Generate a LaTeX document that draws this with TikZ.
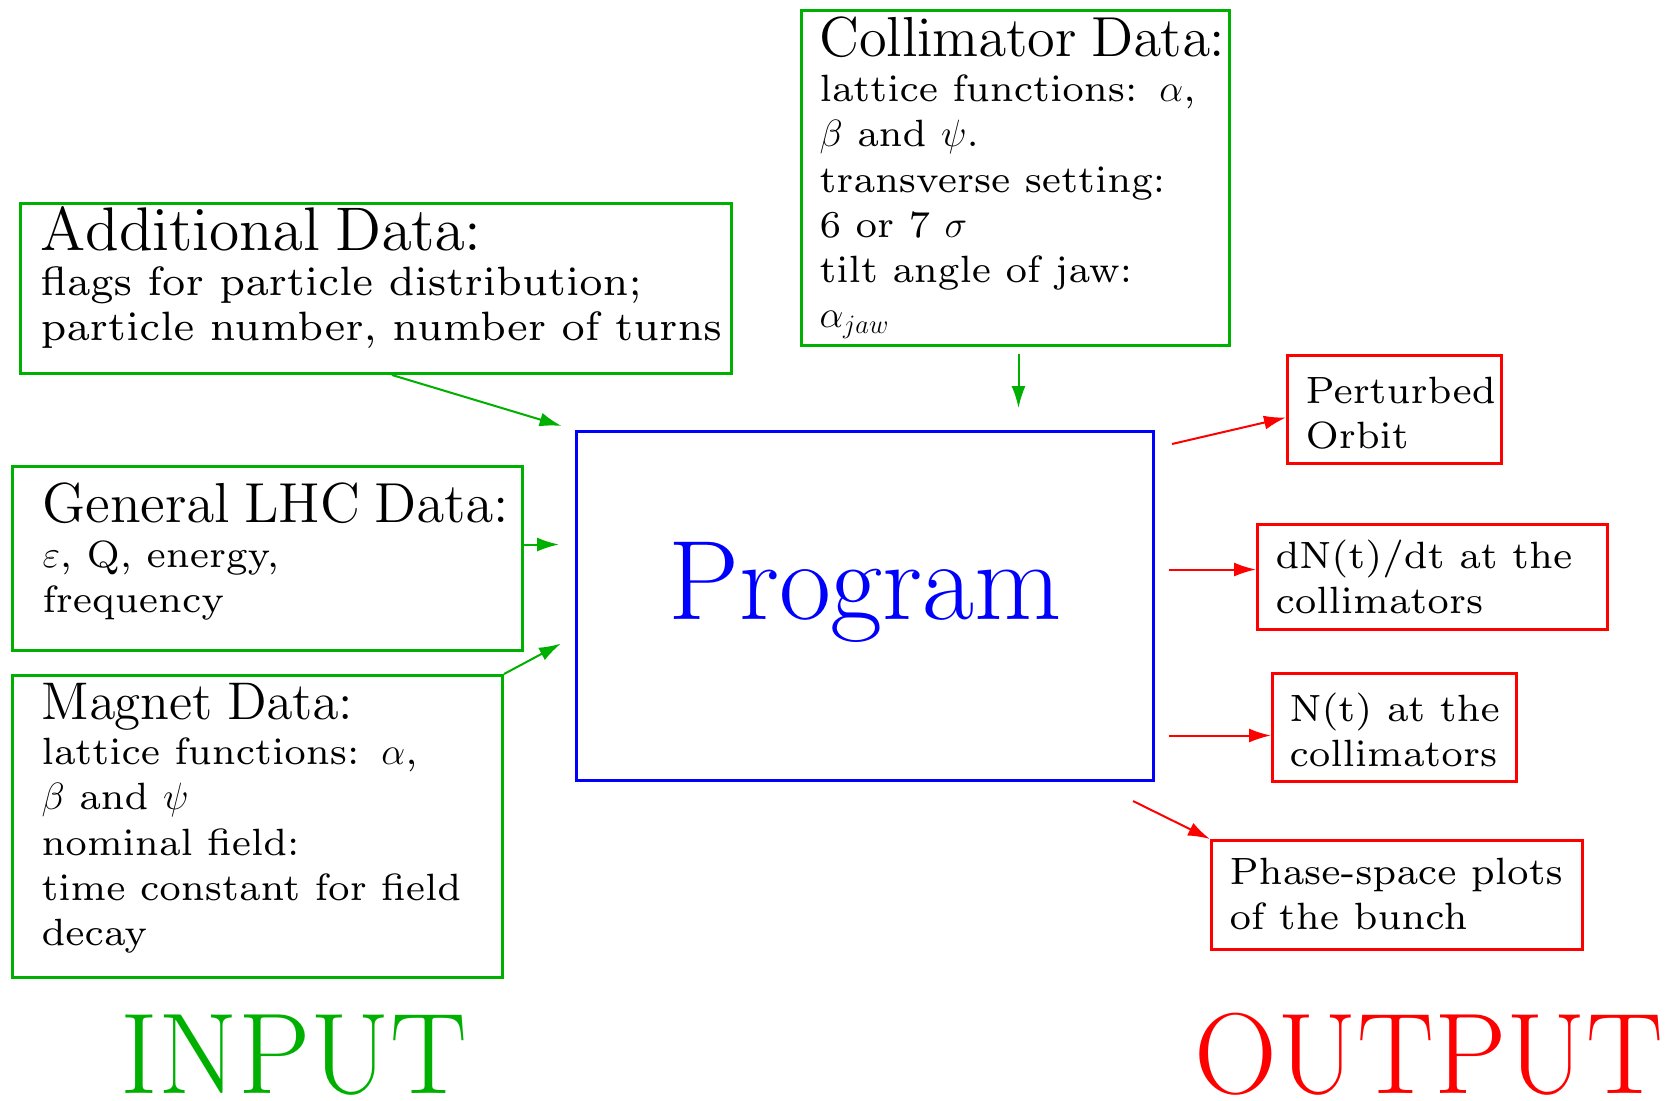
\documentclass[tikz,border=0pt]{standalone}
\usepackage{fix-cm}
\usepackage{tikz}
\usetikzlibrary{positioning}
\usetikzlibrary{arrows.meta}
\usepackage{xcolor}
\usepackage{amsmath}

\definecolor{ingreen}{RGB}{0,176,0}
\font\bodyrm=cmr7 at 19pt
\font\bodyrmbig=cmr7 at 20.5pt
\newcommand{\bodyfont}{\fontsize{19}{22.6}\selectfont\bodyrm}
\newcommand{\bigbodyfont}{\fontsize{20.5}{22.6}\selectfont\bodyrmbig}
\newcommand{\boxtitle}[2]{{\font\ttlrm=cmr12 at #1pt\ttlrm #2}}

\begin{document}
\begin{tikzpicture} [line width=1pt, >={Latex[length=11pt,width=7pt]},
        inbox/.style = {draw=ingreen, line width=1.5pt, anchor=north west, align=left, inner ysep=0pt, inner xsep=9pt,
                        font=\bodyfont, execute at begin node={\setlength{\baselineskip}{22.6pt}}},
        outbox/.style = {inbox, draw=red},
        inarrow/.style = {->, ingreen},
        outarrow/.style = {->, red},
        bigword/.style = {anchor=base, inner sep=0pt, font=\fontsize{57.5}{60}\selectfont}]
        \useasboundingbox (0,0) rectangle (833.5pt,-550pt);

        %Program
        \node[draw=blue, line width=1.5pt, anchor=north west, inner sep=0pt, minimum width=288.5pt,
              text height=94pt, text depth=80.5pt, text=blue, font=\fontsize{56.5}{60}\selectfont]
              (prog) at (287.5pt,-215pt) {Program};

        %Input
        \node[inbox, inner xsep=10pt, text width=335.5pt, text height=23.5pt, text depth=61.5pt, font=\bigbodyfont] (addl) at (9.5pt,-101pt)
              {\boxtitle{30.8}{Additional Data:}\\ flags for particle distribution;\\ \mbox{particle number, number of turns}};
        \node[inbox, inner xsep=15pt, text width=225pt, text height=28pt, text depth=64pt] (gen) at (5.5pt,-232.5pt)
              {\mbox{\boxtitle{28.2}{General LHC Data:}}\\ $\varepsilon$, Q, energy,\\ frequency};
        \node[inbox, inner xsep=14.5pt, text width=216pt, text height=22pt, text depth=129pt] (mag) [below = 11pt of gen.south west, anchor=north west]
              {\boxtitle{26.5}{Magnet Data:}\\ lattice functions: $\alpha$,\\ $\beta$ and $\psi$\\ nominal field:\\ time constant for field\\ decay};
        \node[inbox, text width=196pt, text height=23pt, text depth=144.5pt] (coll) at (400pt,-4.5pt)
              {\mbox{\boxtitle{28.2}{Collimator Data:}}\\ lattice functions: $\alpha$,\\ $\beta$ and $\psi$.\\ transverse setting:\\ 6 or 7 $\sigma$\\ tilt angle of jaw:\\ $\alpha_{jaw}$};

        %Output
        \node[outbox, text width=89pt, text height=24pt, text depth=30pt] (pert) at (643pt,-177pt) {Perturbed\\ Orbit};
        \node[outbox, text width=157pt, text height=22pt, text depth=30.5pt] (dn) at (628pt,-261.5pt) {dN(t)/dt at the\\ collimators};
        \node[outbox, inner xsep=8.5pt, text width=105pt, text height=24pt, text depth=30pt] (nt) at (635.5pt,-336pt) {\mbox{N(t) at the}\\ collimators};
        \node[outbox, text width=167.5pt, text height=22pt, text depth=32.5pt] (ph) at (605pt,-419.5pt) {Phase-space plots\\ of the bunch};

        \node[bigword, text=ingreen] (inp) at (147pt,-546.5pt) {INPUT};
        \node[bigword, text=red] (outp) at (714.5pt,-546.5pt) {OUTPUT};

        %Arrows
        \draw[inarrow, shorten >=7pt] ([xshift=8pt]addl.south) -- (prog.north west);
        \draw[inarrow] ([yshift=7pt]gen.east) -- ([xshift=-8pt,yshift=30.75pt]prog.west);
        \draw[inarrow] (mag.north east) -- ([xshift=-7pt,yshift=-18.75pt]prog.west);
        \draw[inarrow, shorten <=3.5pt] ([xshift=1.5pt]coll.south) -- ([xshift=76.75pt,yshift=11pt]prog.north);

        \draw[outarrow] ([xshift=8.5pt,yshift=-7pt]prog.north east) -- ([yshift=-4pt]pert.west);
        \draw[outarrow] ([xshift=7pt,yshift=18.25pt]prog.east) -- ([yshift=3.75pt]dn.west);
        \draw[outarrow] ([xshift=7pt,yshift=-64.75pt]prog.east) -- ([yshift=-4pt]nt.west);
        \draw[outarrow] ([xshift=-11pt,yshift=-9.5pt]prog.south east) -- (ph.north west);

    \end{tikzpicture}
\end{document}
